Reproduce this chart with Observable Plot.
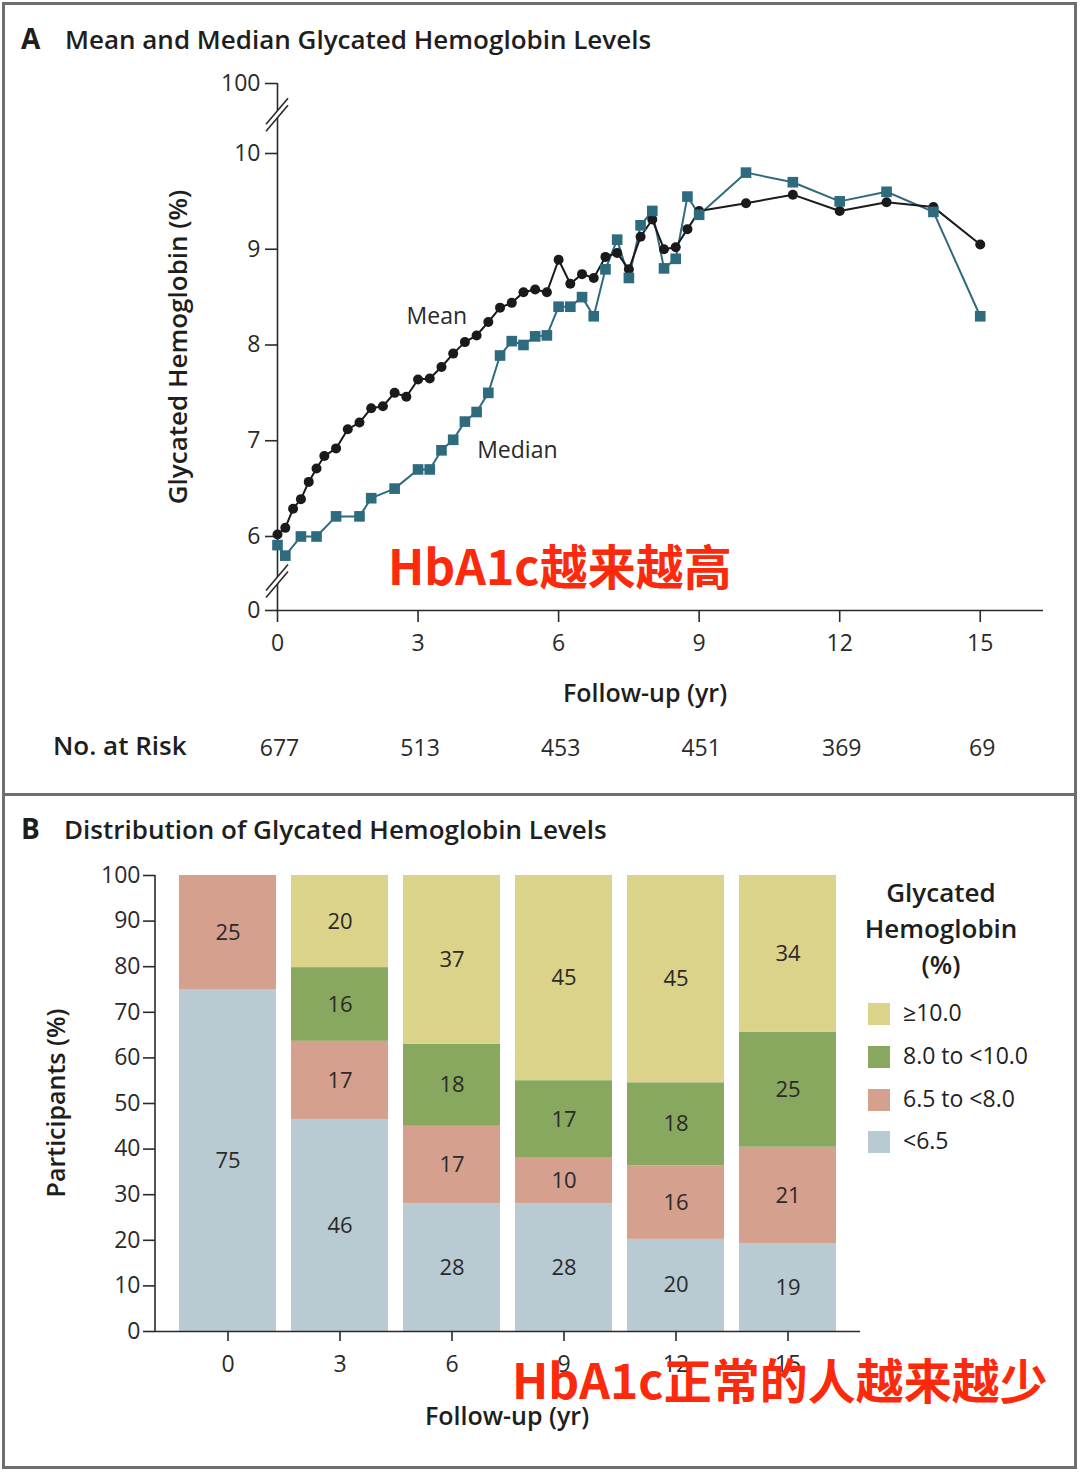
<!DOCTYPE html>
<html><head><meta charset="utf-8">
<script src="https://cdn.jsdelivr.net/npm/d3@7"></script>
<script src="https://cdn.jsdelivr.net/npm/@observablehq/plot@0.6"></script>
<style>
body{margin:0;background:#fff;}
#fig{position:relative;width:1080px;height:1472px;background:#fff;font-family:"Open Sans",Lato,sans-serif;color:#222;overflow:hidden}
.abs{position:absolute;white-space:nowrap}
.frame{position:absolute;left:2px;top:2px;width:1075px;height:1467px;border:3px solid #6e6e6e;box-sizing:border-box}
.divider{position:absolute;left:2px;top:793px;width:1075px;height:3px;background:#6e6e6e}
.ptitle{font-size:26px;font-weight:600;color:#1e1e1e;line-height:1}
.big{font-size:28px;font-weight:700}
.axt{font-size:25px;font-weight:600;color:#1e1e1e;line-height:1}
.rot{transform:translate(-50%,-50%) rotate(-90deg)}
.red{font-family:"Noto Sans CJK SC","Noto Sans",sans-serif;font-weight:700;color:#fb2a0c;font-size:48px;line-height:1}
#legend .ttl{position:absolute;left:941px;transform:translateX(-50%);text-align:center;font-size:26px;font-weight:600;line-height:36px;top:874px;color:#1e1e1e}
#legend .sw{position:absolute;width:22px;height:22px}
#legend .lb{position:absolute;font-size:23px;color:#222;line-height:1}
svg{position:absolute;overflow:visible}
</style></head><body>
<div id="fig">
  <div class="frame"></div>
  <div class="divider"></div>
  <div class="abs ptitle big" style="left:21px;top:24px">A</div>
  <div class="abs ptitle" style="left:65px;top:26px">Mean and Median Glycated Hemoglobin Levels</div>
  <div class="abs ptitle big" style="left:21px;top:814px">B</div>
  <div class="abs ptitle" style="left:64px;top:816px">Distribution of Glycated Hemoglobin Levels</div>
  <div id="chartA"></div>
  <div id="chartB"></div>
  <div class="abs axt rot" style="left:177px;top:347px;font-size:26px">Glycated Hemoglobin (%)</div>
  <div class="abs axt" style="left:645px;top:692px;transform:translate(-50%,-50%)">Follow-up (yr)</div>
  <div class="abs axt" style="left:53px;top:745px;transform:translateY(-50%);font-size:26px">No. at Risk</div>
  <div class="abs axt rot" style="left:55px;top:1103px">Participants (%)</div>
  <div class="abs axt" style="left:507px;top:1415px;transform:translate(-50%,-50%)">Follow-up (yr)</div>
  <div id="legend"></div>
  <div class="abs red" style="left:388px;top:540px">HbA1c越来越高</div>
  <div class="abs red" style="left:512px;top:1354px">HbA1c正常的人越来越少</div>
</div>
<script>
// ---------- Panel A data ----------
const meanYears = [0,0.167,0.333,0.5,0.667,0.833,1,1.25,1.5,1.75,2,2.25,2.5,2.75,3,3.25,3.5,3.75,4,4.25,4.5,4.75,5,5.25,5.5,5.75,6,6.25,6.5,6.75,7,7.25,7.5,7.75,8,8.25,8.5,8.75,9,10,11,12,13,14,15];
const meanValues = [6.02,6.09,6.29,6.39,6.57,6.71,6.84,6.92,7.12,7.19,7.34,7.36,7.50,7.46,7.64,7.65,7.77,7.91,8.03,8.10,8.24,8.39,8.44,8.55,8.58,8.55,8.89,8.64,8.74,8.70,8.92,8.96,8.79,9.13,9.31,9.00,9.02,9.21,9.40,9.48,9.57,9.40,9.49,9.44,9.05];
const medianYears = [0,0.167,0.5,0.833,1.25,1.75,2,2.5,3,3.25,3.5,3.75,4,4.25,4.5,4.75,5,5.25,5.5,5.75,6,6.25,6.5,6.75,7,7.25,7.5,7.75,8,8.25,8.5,8.75,9,10,11,12,13,14,15];
const medianValues = [5.91,5.80,6.00,6.00,6.21,6.21,6.40,6.50,6.70,6.70,6.90,7.01,7.20,7.30,7.50,7.89,8.04,8.00,8.09,8.10,8.40,8.40,8.50,8.30,8.79,9.10,8.70,9.25,9.40,8.80,8.90,9.55,9.36,9.80,9.70,9.50,9.60,9.39,8.30];
const riskYears = [0,3,6,9,12,15];
const riskCounts = [677,513,453,451,369,69];
const xTicksA = [0,3,6,9,12,15];
const yTicksA = [0,6,7,8,9,10,100];
const seriesLabels = ["Mean","Median"];
const seriesLabelYears = [3.4,5.12];
const seriesLabelValues = [8.30,6.90];

// ---------- Panel B data ----------
const barYears = [0,3,6,9,12,15];
const categories = ["<6.5","6.5 to <8.0","8.0 to <10.0","≥10.0"];
const pctBelow65 = [75,46,28,28,20,19];
const pct65to8 = [25,17,17,10,16,21];
const pct8to10 = [0,16,18,17,18,25];
const pctAbove10 = [0,20,37,45,45,34];
const yTicksB = [0,10,20,30,40,50,60,70,80,90,100];
const catColors = ["#b8cad2","#d5a08d","#87a85e","#dcd38a"];

// ---------- Panel A ----------
// broken axis: 0 and 100 are placed just outside the 6–10 band
const brk = {low: 5.227, high: 10.731};
const disp = v => v === 0 ? brk.low : v === 100 ? brk.high : v;
const breakAt = [5.53, 10.40];

const meanData = meanYears.map((t,i)=>({t, v: meanValues[i]}));
const medianData = medianYears.map((t,i)=>({t, v: medianValues[i]}));
const riskData = riskYears.map((t,i)=>({t, n: riskCounts[i]}));
const labelData = seriesLabels.map((s,i)=>({s, t: seriesLabelYears[i], v: seriesLabelValues[i]}));

const FONT = "'Open Sans', Lato, sans-serif";
const ink = "#2a2a2a";
const teal = "#2f6b7e";
const ns = "http://www.w3.org/2000/svg";

function breakMark(index, scales) {
  const g = document.createElementNS(ns, "g");
  const cx = scales.x(0);
  for (const b of breakAt) {
    const cy = scales.y(b);
    const hx = 11, hy = 13, off = 3.5;
    const poly = document.createElementNS(ns, "polygon");
    poly.setAttribute("points", [
      [cx-hx, cy-off+hy],[cx+hx, cy-off-hy],[cx+hx, cy+off-hy],[cx-hx, cy+off+hy]
    ].map(p=>p.join(",")).join(" "));
    poly.setAttribute("fill", "#fff");
    g.appendChild(poly);
    for (const o of [-off, off]) {
      const l = document.createElementNS(ns, "line");
      l.setAttribute("x1", cx-hx); l.setAttribute("y1", cy+o+hy);
      l.setAttribute("x2", cx+hx); l.setAttribute("y2", cy+o-hy);
      l.setAttribute("stroke", ink); l.setAttribute("stroke-width", 1.6);
      g.appendChild(l);
    }
  }
  return g;
}

// left axis line at the frame's left edge (band x scale has no numeric 0)
function leftLine(index, scales, values, dims) {
  const l = document.createElementNS(ns, "line");
  l.setAttribute("x1", dims.marginLeft); l.setAttribute("x2", dims.marginLeft);
  l.setAttribute("y1", dims.marginTop); l.setAttribute("y2", dims.height - dims.marginBottom);
  l.setAttribute("stroke", ink); l.setAttribute("stroke-width", 1.6);
  return l;
}

const chartA = Plot.plot({
  width: 1080, height: 790,
  marginLeft: 277, marginRight: 37, marginTop: 83, marginBottom: 180,
  style: {fontFamily: FONT, fontSize: "23px", color: ink, background: "transparent", overflow: "visible"},
  x: {domain: [0, 16.35]},
  y: {domain: [brk.low, brk.high]},
  marks: [
    Plot.ruleX([0], {y1: brk.low, y2: brk.high, stroke: ink, strokeWidth: 1.6}),
    Plot.ruleY([brk.low], {stroke: ink, strokeWidth: 1.6}),
    Plot.axisX(xTicksA, {tickSize: 12, tickPadding: 12, label: null, strokeWidth: 1.6, fontSize: 23}),
    Plot.axisY(yTicksA.map(disp), {tickSize: 12, tickPadding: 5, label: null, strokeWidth: 1.6, fontSize: 23,
      tickFormat: d => String(yTicksA[yTicksA.map(disp).indexOf(d)])}),
    breakMark,
    Plot.line(medianData, {x: "t", y: "v", stroke: teal, strokeWidth: 2}),
    Plot.line(meanData, {x: "t", y: "v", stroke: "#1a1a1a", strokeWidth: 2}),
    Plot.dot(meanData, {x: "t", y: "v", r: 5, fill: "#1a1a1a", stroke: "none"}),
    Plot.dot(medianData, {x: "t", y: "v", r: 6, symbol: "square", fill: teal, stroke: "none"}),
    Plot.text(labelData, {x: "t", y: "v", text: "s", fontSize: 23, fill: ink}),
    Plot.text(riskData, {x: "t", text: "n", frameAnchor: "bottom", dy: 145, dx: 2, fontSize: 23, fill: ink})
  ]
});
chartA.style.left = "0px"; chartA.style.top = "0px";
document.getElementById("chartA").appendChild(chartA);

// ---------- Panel B ----------
const cols = [pctBelow65, pct65to8, pct8to10, pctAbove10];
const barData = [];
barYears.forEach((yr, i) => categories.forEach((c, k) => barData.push({yr, cat: c, pct: cols[k][i]})));
const labelBars = barData.filter(d => d.pct > 0);

const chartB = Plot.plot({
  width: 1080, height: 672,
  marginLeft: 155, marginRight: 220, marginTop: 75, marginBottom: 141,
  style: {fontFamily: FONT, fontSize: "23px", color: ink, background: "transparent", overflow: "visible"},
  x: {type: "band", domain: barYears, paddingInner: 0.133, paddingOuter: 0.186},
  y: {domain: [0, 1]},
  color: {domain: categories, range: catColors},
  marks: [
    Plot.barY(barData, Plot.stackY({offset: "normalize", x: "yr", y: "pct", fill: "cat", order: categories})),
    Plot.text(labelBars, Plot.stackY({offset: "normalize", x: "yr", y: "pct", z: "cat", order: categories, text: d => String(d.pct), fontSize: 22, fill: ink})),
    Plot.ruleY([0], {stroke: ink, strokeWidth: 1.6}),
    leftLine,
    Plot.axisY(yTicksB.map(d => d / 100), {tickSize: 12, tickPadding: 3, label: null, strokeWidth: 1.6, fontSize: 23, tickFormat: d => String(Math.round(d * 100))}),
    Plot.axisX(barYears, {tickSize: 10, tickPadding: 14, label: null, strokeWidth: 1.6, fontSize: 23})
  ]
});
chartB.style.left = "0px"; chartB.style.top = "800px";
document.getElementById("chartB").appendChild(chartB);

// ---------- Legend ----------
const legend = document.getElementById("legend");
legend.innerHTML = '<div class="ttl">Glycated<br>Hemoglobin<br>(%)</div>';
const legendCenters = [1014, 1057, 1100, 1142];
categories.slice().reverse().forEach((c, i) => {
  const color = catColors[categories.indexOf(c)];
  const sw = document.createElement("div");
  sw.className = "sw"; sw.style.left = "868px"; sw.style.top = (legendCenters[i] - 11) + "px"; sw.style.background = color;
  const lb = document.createElement("div");
  lb.className = "lb"; lb.style.left = "903px"; lb.style.top = (legendCenters[i] - 13) + "px"; lb.textContent = c;
  legend.appendChild(sw); legend.appendChild(lb);
});
</script>
</body></html>
